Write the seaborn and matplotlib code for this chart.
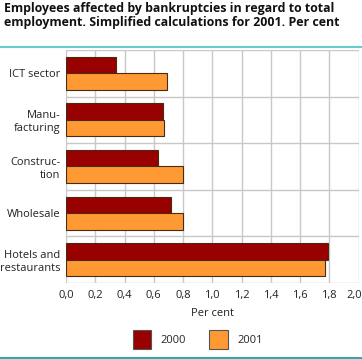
import matplotlib
matplotlib.use('Agg')
import matplotlib.pyplot as plt
import matplotlib.ticker as mticker
from matplotlib.lines import Line2D
from matplotlib.patches import Patch
from matplotlib.transforms import ScaledTranslation
import pandas as pd
import seaborn as sns

# ---------------- data ---------------- #
sectors = ['ICT sector', 'Manu-\nfacturing', 'Construc-\ntion', 'Wholesale', 'Hotels and\nrestaurants']
years = ['2000', '2001']
values_2000 = [0.34, 0.66, 0.63, 0.72, 1.79]
values_2001 = [0.69, 0.67, 0.80, 0.80, 1.77]
x_ticks = [0.0, 0.2, 0.4, 0.6, 0.8, 1.0, 1.2, 1.4, 1.6, 1.8, 2.0]

colors = {'2000': '#990000', '2001': '#ff9933'}

df = pd.DataFrame({
    'Sector': sectors * 2,
    'Year': ['2000'] * len(sectors) + ['2001'] * len(sectors),
    'Value': values_2000 + values_2001,
})

sns.set_style('white')
plt.rcParams['font.family'] = ['Open Sans', 'DejaVu Sans']

fig = plt.figure(figsize=(3.62, 3.59), dpi=100)
ax = fig.add_axes([66 / 362, 1 - 283 / 359, (358.6 - 66) / 362, (283 - 50) / 359])

sns.barplot(data=df, y='Sector', x='Value', hue='Year', order=sectors, hue_order=years,
            palette=colors, saturation=1, orient='h', width=0.71, edgecolor='#4a2a10',
            linewidth=0.8, legend=False, ax=ax, zorder=3)

ax.set_xlim(0, 2.0)
ax.set_ylim(len(sectors) - 0.5, -0.5)
ax.set_xticks(x_ticks)
ax.xaxis.set_major_formatter(mticker.FuncFormatter(lambda x, _: f"{x:.1f}".replace('.', ',')))
ax.set_yticks(range(len(sectors)))
ax.set_yticks([i - 0.5 for i in range(len(sectors) + 1)], minor=True)
ax.grid(axis='x', which='major', color='#c8c8c8', linewidth=1.0, zorder=0)
ax.grid(axis='y', which='minor', color='#c8c8c8', linewidth=1.0, zorder=0)
ax.tick_params(axis='both', which='both', length=0, labelsize=8, colors='#222222')
ax.tick_params(axis='x', pad=5)
ax.tick_params(axis='y', pad=4)
for s in ax.spines.values():
    s.set_visible(False)
ax.set_ylabel('')
ax.set_xlabel('Per cent', fontsize=8, color='#222222', labelpad=5)

# last tick label pulled in so it fits
fig.canvas.draw()
last = ax.get_xticklabels()[-1]
last.set_transform(last.get_transform() + ScaledTranslation(-4 / 100, 0, fig.dpi_scale_trans))

# title
fig.text(0.012, 0.995, 'Employees affected by bankruptcies in regard to total\n'
         'employment. Simplified calculations for 2001. Per cent',
         ha='left', va='top', fontsize=8.9, fontweight='bold', color='#111111', linespacing=1.15)
fig.add_artist(Line2D([0, 1], [1 - 47 / 359] * 2, transform=fig.transFigure, color='#66cccc', linewidth=1.5))
fig.add_artist(Line2D([0, 1], [1 - 357.5 / 359] * 2, transform=fig.transFigure, color='#009999', linewidth=1.2))

# legend
handles = [Patch(facecolor=colors[y], edgecolor='#555555', linewidth=0.8, label=y) for y in years]
fig.legend(handles=handles, loc='lower center', bbox_to_anchor=(197.5 / 362, 0.0), ncol=2, frameon=False,
           fontsize=8, handlelength=1.7, handleheight=2.2, columnspacing=2.1, handletextpad=0.8)

plt.savefig('out.png', dpi=100)
